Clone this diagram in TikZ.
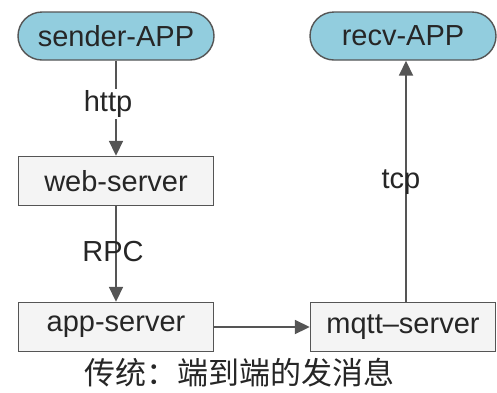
\documentclass[tikz,border=0pt]{standalone}
\usepackage{fontspec}
\setmainfont{Liberation Sans}
\newfontfamily\cjk{Noto Sans CJK SC}
\usetikzlibrary{arrows.meta}
\definecolor{appblue}{RGB}{146,205,222}
\definecolor{edgegrey}{RGB}{85,85,85}
\definecolor{boxfill}{RGB}{244,244,244}
\tikzset{
  appnode/.style={draw=edgegrey, line width=1.4pt, fill=appblue, rounded corners=24pt,
    minimum width=196pt, minimum height=48pt, inner sep=0pt,
    font=\fontsize{29}{32}\selectfont, text=black!85},
  srvnode/.style={draw=edgegrey, line width=1.4pt, fill=boxfill,
    minimum width=195pt, minimum height=49pt, inner sep=0pt,
    font=\fontsize{29}{32}\selectfont, text=black!85},
  conn/.style={draw=edgegrey, line width=1.8pt, -{Triangle[length=15pt,width=14pt]}},
  lbl/.style={font=\fontsize{29}{32}\selectfont, text=black!85, inner sep=1pt},
}
\begin{document}
\begin{tikzpicture}[x=1pt,y=-1pt]
\useasboundingbox (0,0) rectangle (497,392);
\node[appnode] (sender) at (116,36) {sender-APP};
\node[appnode, minimum width=186pt] (recv) at (403,36) {recv-APP};
\node[srvnode] (web) at (116,181) {web-server};
\node[srvnode] (app) at (116,327) {app-server};
\node[srvnode, minimum width=185pt] (mqtt) at (403,327) {mqtt–server};
\draw[conn] (sender.south) -- (web.north);
\draw[conn] (web.south) -- (app.north);
\draw[conn] (app.east) -- (mqtt.west);
\draw[conn] (mqtt.north -| 406,0) -- (recv.south -| 406,0);
\node[lbl, fill=white] (http) at (108,104) {http};
\node[lbl] (rpc) at (113,252) {RPC};
\node[lbl] (tcp) at (401,182) {tcp};
\node[font=\cjk\fontsize{31}{34}\selectfont, text=black!85, inner sep=0pt] (cap) at (239,373) {传统：端到端的发消息};
\end{tikzpicture}
\end{document}
